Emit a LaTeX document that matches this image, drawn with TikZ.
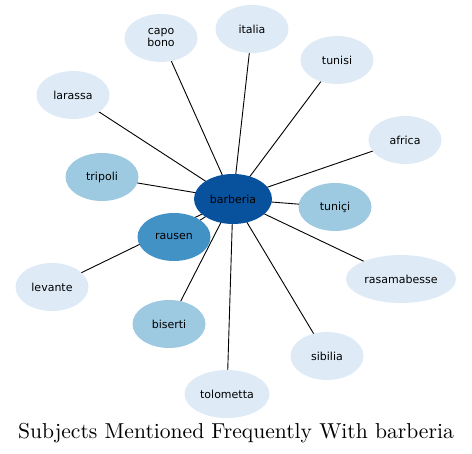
\documentclass[tikz,border=0pt]{standalone}
\usepackage{fontspec}
\newfontfamily\labelfont{DejaVu Sans}
\newfontfamily\titlefont{lmroman10-regular.otf}
\usetikzlibrary{shapes.geometric,backgrounds}
\definecolor{paleblue}{HTML}{DEEBF7}
\definecolor{midblue}{HTML}{9ECAE1}
\definecolor{deepblue}{HTML}{4292C6}
\definecolor{darkblue}{HTML}{08519C}

\begin{document}
\begin{tikzpicture}[x=1pt, y=-1pt,
      topic/.style={ellipse, fill=paleblue, minimum width=73pt, minimum height=48pt,
                    inner sep=0pt, align=center, font=\labelfont\fontsize{11}{12}\selectfont},
      near/.style={topic, fill=midblue},
      close/.style={topic, fill=deepblue},
      hub/.style={topic, fill=darkblue, minimum width=78pt, minimum height=50pt}]
      \useasboundingbox (0,0) rectangle (472,454);

      % centre and its neighbours (pixel positions)
      \node[hub]   (barberia)    at (233,199) {barberia};
      \node[topic] (capobono)    at (161,38)  {capo\\bono};
      \node[topic] (italia)      at (252,29)  {italia};
      \node[topic] (tunisi)      at (337,60)  {tunisi};
      \node[topic] (africa)      at (405,140) {africa};
      \node[topic] (larassa)     at (73,95)   {larassa};
      \node[near]  (tripoli)     at (102,177) {tripoli};
      \node[near]  (tunici)      at (335,207) {tuniçi};
      \node[close] (rausen)      at (174,237) {rausen};
      \node[topic] (levante)     at (52,287)  {levante};
      \node[topic, minimum width=110pt] (rasamabesse) at (401,279) {rasamabesse};
      \node[near]  (biserti)     at (169,324) {biserti};
      \node[topic] (sibilia)     at (327,356) {sibilia};
      \node[topic, minimum width=85pt] (tolometta) at (227,394) {tolometta};

      % spokes, behind the ellipses
      \begin{pgfonlayer}{background}
        \foreach \t in {capobono,italia,tunisi,africa,larassa,tripoli,tunici,
                        rausen,levante,rasamabesse,biserti,sibilia,tolometta}{
          \draw[line width=0.9pt] (barberia.center) -- (\t.center);
        }
      \end{pgfonlayer}

      \node[font=\titlefont\fontsize{21.6}{26}\selectfont] (title) at (236,433)
        {Subjects Mentioned Frequently With barberia};
    \end{tikzpicture}
\end{document}
